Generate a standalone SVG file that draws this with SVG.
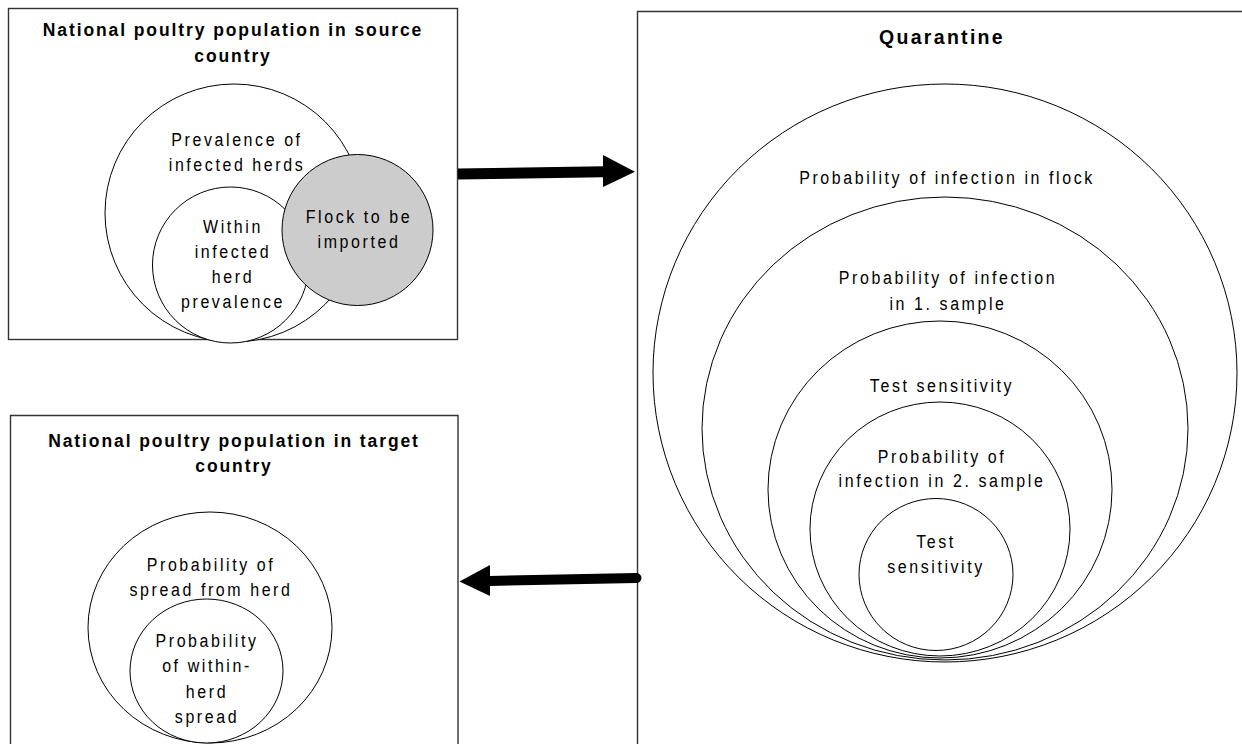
<svg xmlns="http://www.w3.org/2000/svg" width="1242" height="744" viewBox="0 0 1242 744">
  <style>
    .panel { fill: none; stroke: #333; stroke-width: 1.4; }
    .ring { fill: #fff; stroke: #000; stroke-width: 1; }
    .shade { fill: #cccccc; stroke: #000; stroke-width: 1; }
    .title { font-family: "Liberation Sans", Arial, sans-serif; font-weight: bold; font-size: 17.5px; letter-spacing: 1.9px; text-anchor: middle; fill: #000; }
    .qtitle { font-family: "Liberation Sans", Arial, sans-serif; font-weight: bold; font-size: 19.5px; letter-spacing: 2.3px; text-anchor: middle; fill: #000; }
    /* condensed, tracked body lettering: glyphs are narrowed by the transform on each label */
    .label { font-family: "Liberation Sans", Arial, sans-serif; font-size: 18.6px; letter-spacing: 3px; text-anchor: middle; fill: #000; }
    .arrow { fill: #000; stroke: none; }
    .shaft { fill: none; stroke: #000; }
  </style>

  <rect x="0" y="0" width="1242" height="744" fill="#fff"/>

  <!-- Source country panel -->
  <g id="source-country">
    <rect class="panel" x="8.5" y="8.5" width="449" height="331"/>
    <text class="title" x="233" y="36">National poultry population in source</text>
    <text class="title" x="233" y="62">country</text>
    <circle class="ring" cx="234" cy="213" r="129"/>
    <circle class="ring" cx="230.5" cy="265" r="78"/>
    <circle class="shade" cx="357.5" cy="230" r="75.5"/>
    <text class="label" transform="translate(237,146) scale(0.86,1)">Prevalence of</text>
    <text class="label" transform="translate(237,171) scale(0.86,1)">infected herds</text>
    <text class="label" transform="translate(233,233) scale(0.86,1)">Within</text>
    <text class="label" transform="translate(233,258) scale(0.86,1)">infected</text>
    <text class="label" transform="translate(233,283) scale(0.86,1)">herd</text>
    <text class="label" transform="translate(233,308) scale(0.86,1)">prevalence</text>
    <text class="label" transform="translate(359,223) scale(0.86,1)">Flock to be</text>
    <text class="label" transform="translate(359,248) scale(0.86,1)">imported</text>
  </g>

  <!-- Target country panel (open at the bottom edge) -->
  <g id="target-country">
    <path class="panel" d="M10.5,750 V415.5 H458 V750"/>
    <text class="title" x="234" y="447">National poultry population in target</text>
    <text class="title" x="234" y="472">country</text>
    <ellipse class="ring" cx="210" cy="627.5" rx="122" ry="115.5"/>
    <ellipse class="ring" cx="206.5" cy="671" rx="76.5" ry="72"/>
    <text class="label" transform="translate(211,571) scale(0.86,1)">Probability of</text>
    <text class="label" transform="translate(211,596) scale(0.86,1)">spread from herd</text>
    <text class="label" transform="translate(207,647) scale(0.86,1)">Probability</text>
    <text class="label" transform="translate(207,672) scale(0.86,1)">of within-</text>
    <text class="label" transform="translate(207,698) scale(0.86,1)">herd</text>
    <text class="label" transform="translate(207,723) scale(0.86,1)">spread</text>
  </g>

  <!-- Quarantine panel (runs off the right and bottom edges) -->
  <g id="quarantine">
    <path class="panel" d="M637.5,750 V11.5 H1250"/>
    <text class="qtitle" x="942" y="44">Quarantine</text>
    <ellipse class="ring" cx="945" cy="373" rx="292" ry="289"/>
    <ellipse class="ring" cx="945" cy="428.5" rx="243" ry="231.5"/>
    <ellipse class="ring" cx="940" cy="489.5" rx="172" ry="168.5"/>
    <ellipse class="ring" cx="940" cy="529" rx="130" ry="127"/>
    <ellipse class="ring" cx="936" cy="574.5" rx="77" ry="76"/>
    <text class="label" transform="translate(947,184) scale(0.86,1)">Probability of infection in flock</text>
    <text class="label" transform="translate(948,284) scale(0.86,1)">Probability of infection</text>
    <text class="label" transform="translate(948,310) scale(0.86,1)">in 1. sample</text>
    <text class="label" transform="translate(942,392) scale(0.86,1)">Test sensitivity</text>
    <text class="label" transform="translate(942,463) scale(0.86,1)">Probability of</text>
    <text class="label" transform="translate(942,487) scale(0.86,1)">infection in 2. sample</text>
    <text class="label" transform="translate(936,548) scale(0.86,1)">Test</text>
    <text class="label" transform="translate(936,573) scale(0.86,1)">sensitivity</text>
  </g>

  <!-- Connectors -->
  <g id="connectors">
    <line class="shaft" x1="458" y1="174" x2="604" y2="171.7" stroke-width="11"/>
    <polygon class="arrow" points="603,155 635,171.7 603,187"/>
    <line class="shaft" x1="489" y1="581" x2="636.5" y2="578" stroke-width="10" stroke-linecap="round"/>
    <polygon class="arrow" points="490,565 459.5,581.5 490,596"/>
  </g>
</svg>
